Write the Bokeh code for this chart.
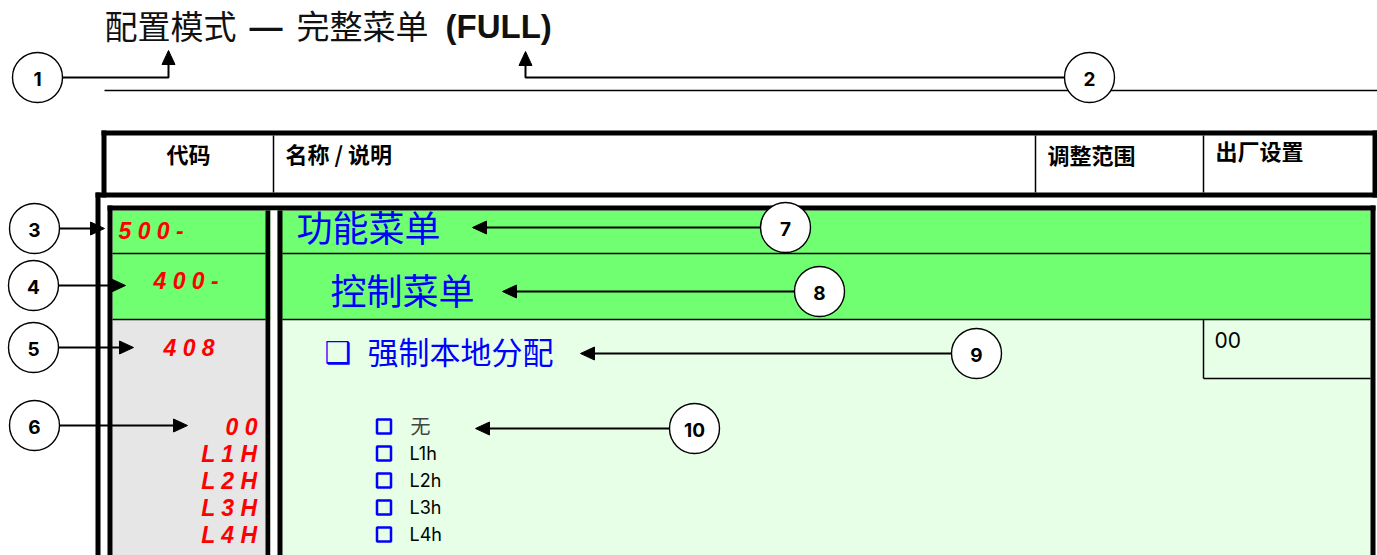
from bokeh.plotting import figure
from bokeh.models import Range1d
from bokeh.core.properties import value
from bokeh.embed import file_html
from bokeh.resources import INLINE

# ---------------- data ----------------
title_parts = ["配置模式", "—", "完整菜单", "(FULL)"]
header_labels = ["代码", "名称 / 说明", "调整范围", "出厂设置"]
menu_codes = ["5 0 0 -", "4 0 0 -", "4 0 8"]
menu_names = ["功能菜单", "控制菜单", "强制本地分配"]
option_codes = ["0 0", "L 1 H", "L 2 H", "L 3 H", "L 4 H"]
option_labels = ["无", "L1h", "L2h", "L3h", "L4h"]
factory_setting = "00"
callout_labels = ["1", "2", "3", "4", "5", "6", "7", "8", "9", "10"]

# ---------------- styles ----------------
GREEN = "#70ff70"
LIGHT_GREEN = "#e6ffe6"
GRAY = "#e6e6e6"
BLUE = "#0000ff"
RED = "#ff0000"
CJK = value("Noto Sans CJK SC")
LATIN = value("Liberation Sans")
ROUND = value("Inter")

W, H = 1377, 555
p = figure(width=W, height=H, x_range=Range1d(0, W), y_range=Range1d(H, 0),
           output_backend="svg", toolbar_location=None, min_border=0,
           x_axis_location=None, y_axis_location=None,
           background_fill_color="white", border_fill_color="white",
           outline_line_color=None)
p.grid.visible = False


def block(l, r, t, b, color):
    p.quad(left=[l], right=[r], top=[t], bottom=[b], fill_color=color, line_color=None)


def hline(x0, x1, y, w=1.5):
    p.segment(x0=[x0], y0=[y], x1=[x1], y1=[y], line_color="black", line_width=w)


def vline(x, y0, y1, w=1.5):
    p.segment(x0=[x], y0=[y0], x1=[x], y1=[y1], line_color="black", line_width=w)


# ---------------- title ----------------
title_x = [104, 249, 296, 445]
title_y = [24, 26, 24, 26]
title_font = [CJK, LATIN, CJK, LATIN]
title_style = ["normal", "bold", "normal", "bold"]
for t, x, y, f, s in zip(title_parts, title_x, title_y, title_font, title_style):
    p.text(x=[x], y=[y], text=[t], text_font=f, text_font_style=s,
           text_font_size="33px", text_color="#111111", text_baseline="middle")
hline(104, 1377, 90, 1.3)

# ---------------- header box ----------------
block(101, 1377, 130, 197, "white")
block(101, 1377, 130, 135, "black")
block(101, 106, 130, 197, "black")
block(1372, 1377, 130, 197, "black")
block(95, 1377, 192, 197, "black")
for x in (273, 1035, 1203):
    vline(x, 135, 192)
head_x = [188, 285, 1047, 1215]
head_y = [152, 152, 153, 149]
head_align = ["center", "left", "left", "left"]
for t, x, y, a in zip(header_labels, head_x, head_y, head_align):
    p.text(x=[x], y=[y], text=[t], text_font=CJK, text_font_style="bold",
           text_font_size="22px", text_color="black", text_align=a,
           text_baseline="middle")

# ---------------- body frame ----------------
row_top, row1, row2, bottom = 210, 253, 319, 560
block(95, 100, 192, bottom, "black")                 # outer left
block(112, 1370, row_top, row2, GREEN)              # menu rows
block(112, 265, row2, bottom, GRAY)                 # code column
block(282, 1370, row2, bottom, LIGHT_GREEN)         # description column
block(107, 1375, 205, 210, "black")                 # inner top
block(107, 112, 205, bottom, "black")               # inner left
block(1370, 1375, 205, bottom, "black")             # inner right
block(265, 270, row_top, bottom, "black")
block(270, 277, row_top, bottom, "white")
block(277, 282, row_top, bottom, "black")
for y in (row1, row2):
    hline(112, 265, y)
    hline(282, 1370, y)
vline(1203, row2, 378)
hline(1203, 1370, 378)

# ---------------- codes (red, display style) ----------------
code_x = [118, 153, 163]
code_y = [230, 280, 347]
for t, x, y in zip(menu_codes, code_x, code_y):
    p.text(x=[x], y=[y], text=[t], text_font=LATIN, text_font_style="bold italic",
           text_font_size="23px", text_color=RED, text_baseline="middle")

opt_y = [426, 453, 480, 507, 534]
p.text(x=[257] * len(option_codes), y=opt_y, text=option_codes, text_font=LATIN,
       text_font_style="bold italic", text_font_size="23px", text_color=RED,
       text_align="right", text_baseline="middle")

# ---------------- names (blue) ----------------
name_x = [296, 330, 367]
name_y = [225, 288, 350]
name_size = ["36px", "36px", "31px"]
for t, x, y, s in zip(menu_names, name_x, name_y, name_size):
    p.text(x=[x], y=[y], text=[t], text_font=CJK, text_font_size=s,
           text_color=BLUE, text_baseline="middle")
p.text(x=[324], y=[352], text=["❑"], text_font=value("DejaVu Sans"),
       text_font_style="bold", text_font_size="30px", text_color=BLUE,
       text_baseline="middle")

# options
p.scatter(x=[383.5] * len(option_labels), y=opt_y, marker="square", size=14,
          fill_color=None, line_color=BLUE, line_width=2.5)
p.text(x=[410], y=[opt_y[0] - 1], text=[option_labels[0]], text_font=CJK,
       text_font_size="20px", text_color="#444444", text_baseline="middle")
p.text(x=[409] * 4, y=opt_y[1:], text=option_labels[1:], text_font=ROUND,
       text_font_size="18px", text_color="black", text_baseline="middle")

# factory setting
p.text(x=[1214], y=[339], text=[factory_setting], text_font=ROUND,
       text_font_size="21px", text_color="black", text_baseline="middle")

# ---------------- callouts ----------------
R = 25
centers = [(37, 77), (1089, 77), (34, 228), (33, 285), (33, 347), (34, 425),
           (785, 227), (819, 291), (976, 353), (694, 428)]
tips = [(168, 50), (525, 51), (104, 228), (125, 285), (133, 347), (187, 425),
        (472, 227), (502, 291), (580, 353), (475, 428)]
HL, HW = 14, 6.5
xs_lines, ys_lines, xs_heads, ys_heads = [], [], [], []
for (cx, cy), (tx, ty) in zip(centers, tips):
    if ty < cy - R:            # elbow going up
        sx = cx + R if tx > cx else cx - R
        xs_lines.append([sx, tx, tx])
        ys_lines.append([cy, cy, ty + HL])
        xs_heads.append([tx, tx - HW, tx + HW])
        ys_heads.append([ty, ty + HL, ty + HL])
    elif tx > cx:              # pointing right
        xs_lines.append([cx + R, tx - HL])
        ys_lines.append([cy, ty])
        xs_heads.append([tx, tx - HL, tx - HL])
        ys_heads.append([ty, ty - HW, ty + HW])
    else:                      # pointing left
        xs_lines.append([cx - R, tx + HL])
        ys_lines.append([cy, ty])
        xs_heads.append([tx, tx + HL, tx + HL])
        ys_heads.append([ty, ty - HW, ty + HW])
p.multi_line(xs=xs_lines, ys=ys_lines, line_color="black", line_width=2)
p.patches(xs=xs_heads, ys=ys_heads, fill_color="black", line_color="black")
p.scatter(x=[c[0] for c in centers], y=[c[1] for c in centers], marker="circle",
          size=2 * R, fill_color="white", line_color="black", line_width=1.4)
p.text(x=[c[0] for c in centers], y=[c[1] + 1 for c in centers], text=callout_labels,
       text_font=ROUND, text_font_style="bold", text_font_size="19px",
       text_color="black", text_align="center", text_baseline="middle")

open("out.html", "w").write(file_html(p, INLINE))
